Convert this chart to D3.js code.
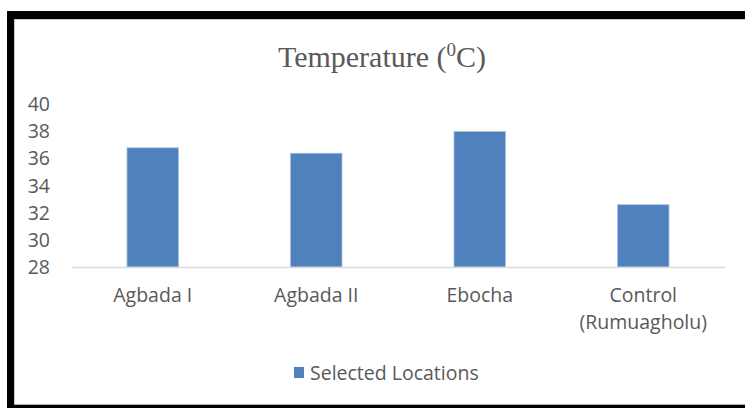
<!DOCTYPE html>
<html>
<head>
<meta charset="utf-8">
<script src="https://cdn.jsdelivr.net/npm/d3@7"></script>
<style>
  html, body { margin: 0; padding: 0; background: #fff; }
  svg { display: block; }
</style>
</head>
<body>
<svg id="chart" width="745" height="408"></svg>
<script>
const categories = ["Agbada I", "Agbada II", "Ebocha", "Control\n(Rumuagholu)"];
const values = [36.8, 36.4, 38.0, 32.6];
const yTicks = [28, 30, 32, 34, 36, 38, 40];
const seriesName = "Selected Locations";
const titleMain = "Temperature (";
const titleSup = "0";
const titleEnd = "C)";

const svg = d3.select("#chart");
const W = 745, H = 408;
const textColor = "#595959";
const sansFont = "'Open Sans', 'Liberation Sans', sans-serif";

// frame
svg.append("rect").attr("x", 0).attr("y", 0).attr("width", W).attr("height", H).attr("fill", "#fff");
svg.append("rect").attr("x", 7).attr("y", 11).attr("width", W - 7).attr("height", 8).attr("fill", "#000");
svg.append("rect").attr("x", 7).attr("y", 11).attr("width", 7).attr("height", H - 11).attr("fill", "#000");
svg.append("rect").attr("x", 7).attr("y", 405).attr("width", W - 7).attr("height", 3).attr("fill", "#000");
svg.append("line").attr("x1", 14).attr("x2", W).attr("y1", 19.5).attr("y2", 19.5).attr("stroke", "#c8c8c8").attr("stroke-width", 1);
svg.append("line").attr("x1", 14.5).attr("x2", 14.5).attr("y1", 19).attr("y2", 405).attr("stroke", "#c8c8c8").attr("stroke-width", 1);
svg.append("line").attr("x1", 14).attr("x2", W).attr("y1", 404.5).attr("y2", 404.5).attr("stroke", "#b0b0b0").attr("stroke-width", 1);

// scales
const x = d3.scaleBand().domain(categories).range([71, 725]).paddingInner(0.685).paddingOuter(0.3425);
const y = d3.scaleLinear().domain([28, 40]).range([267, 104.5]);

// title
const title = svg.append("text")
  .attr("x", 382).attr("y", 67)
  .attr("text-anchor", "middle")
  .attr("font-family", "'Liberation Serif', 'Times New Roman', serif")
  .attr("font-size", 30)
  .attr("fill", textColor);
title.append("tspan").text(titleMain);
title.append("tspan").attr("font-size", 19).attr("dy", -11).text(titleSup);
title.append("tspan").attr("dy", 11).text(titleEnd);

// y axis (labels only)
const yAxis = d3.axisLeft(y).tickValues(yTicks).tickSize(0).tickPadding(0).tickFormat(d3.format("d"));
const gy = svg.append("g").attr("transform", "translate(50,0)").call(yAxis);
gy.select(".domain").remove();
gy.selectAll("text")
  .attr("font-family", sansFont)
  .attr("font-size", 19.5)
  .attr("fill", textColor);

// bars
svg.append("g").selectAll("rect")
  .data(categories.map((c, i) => ({ c, v: values[i] })))
  .join("rect")
  .attr("x", d => x(d.c))
  .attr("width", x.bandwidth())
  .attr("y", d => y(d.v))
  .attr("height", d => y(28) - y(d.v))
  .attr("fill", "#4F81BD")
  .attr("stroke", "#a9c1e0")
  .attr("stroke-width", 0.8);

// x axis
const xAxis = d3.axisBottom(x).tickSize(0).tickPadding(0).tickFormat(() => "");
const gx = svg.append("g").attr("transform", `translate(0,${y(28)})`).call(xAxis);
gx.select(".domain").attr("stroke", "#d9d9d9").attr("stroke-width", 1.5);
gx.selectAll(".tick text").remove();
gx.selectAll(".tick").each(function(d) {
  const lines = d.split("\n");
  const t = d3.select(this).append("text")
    .attr("text-anchor", "middle")
    .attr("font-family", sansFont)
    .attr("font-size", 19.5)
    .attr("fill", textColor);
  lines.forEach((ln, i) => {
    t.append("tspan").attr("x", 0).attr("y", 35 + i * 27).text(ln);
  });
});

// legend
const lg = svg.append("g").attr("transform", "translate(294,367)");
lg.append("rect").attr("x", 0).attr("y", 0).attr("width", 10).attr("height", 11).attr("fill", "#4F81BD");
lg.append("text").attr("x", 16).attr("y", 13)
  .attr("font-family", sansFont)
  .attr("font-size", 19.5)
  .attr("fill", textColor)
  .text(seriesName);
</script>
</body>
</html>
